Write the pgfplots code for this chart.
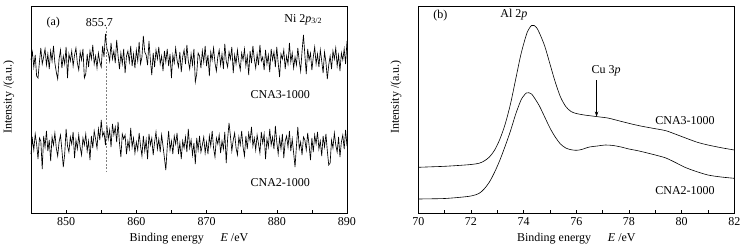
\documentclass[border=0pt]{standalone}
\usepackage{fontspec}
\setmainfont{Liberation Serif}
\usepackage{pgfplots}
\usepackage{pgfplotstable}
\pgfplotsset{compat=1.18}
\usetikzlibrary{arrows.meta}
\pgfplotstableread{
x a b
845.0 60 154
845.2 52 139
845.4 67 150
845.6 55 134
845.8 76 144
846.0 78 159
846.2 62 138
846.4 48 141
846.6 64 169
846.8 57 136
847.0 49 147
847.2 65 131
847.4 54 151
847.6 69 140
847.8 51 161
848.0 61 137
848.2 46 145
848.4 63 133
848.6 72 148
848.8 79 156
849.0 59 142
849.2 50 135
849.4 68 150
849.6 56 167
849.8 64 154
850.0 47 129
850.2 78 146
850.4 54 152
850.6 61 137
850.8 51 144
851.0 66 132
851.2 55 158
851.4 48 140
851.6 63 149
851.8 70 135
852.0 52 147
852.2 60 155
852.4 49 138
852.6 78 145
852.8 74 134
853.0 54 151
853.2 67 141
853.4 51 160
853.6 59 136
853.8 45 148
854.0 64 131
854.2 56 139
854.4 68 148
854.6 53 129
854.8 62 140
855.0 67 120
855.2 46 136
855.4 57 132
855.6 34 145
855.8 48 125
856.0 53 139
856.2 61 130
856.4 43 147
856.6 59 124
856.8 51 135
857.0 63 127
857.2 40 142
857.4 56 122
857.6 69 143
857.8 53 157
858.0 64 134
858.2 49 139
858.4 73 135
858.6 56 154
858.8 51 141
859.0 62 149
859.2 46 128
859.4 66 147
859.6 54 138
859.8 68 153
860.0 50 142
860.2 61 150
860.4 42 133
860.6 64 146
860.8 57 156
861.0 36 136
861.2 52 151
861.4 55 140
861.6 65 159
861.8 41 134
862.0 60 145
862.2 75 138
862.4 53 155
862.6 67 142
862.8 50 132
863.0 59 149
863.2 47 139
863.4 64 152
863.6 56 135
863.8 71 146
864.0 51 158
864.2 62 170
864.4 49 147
864.6 66 131
864.8 54 150
865.0 78 141
865.2 55 154
865.4 63 136
865.6 48 144
865.8 60 133
866.0 67 154
866.2 52 143
866.4 72 159
866.6 57 141
866.8 50 148
867.0 64 137
867.2 45 152
867.4 61 129
867.6 69 148
867.8 54 140
868.0 65 155
868.2 49 143
868.4 82 164
868.6 74 138
868.8 53 150
869.0 56 136
869.2 68 152
869.4 51 145
869.6 62 137
869.8 46 153
870.0 66 142
870.2 55 154
870.4 76 136
870.6 52 146
870.8 60 131
871.0 48 148
871.2 63 157
871.4 71 138
871.6 57 144
871.8 50 135
872.0 65 153
872.2 54 141
872.4 69 149
872.6 44 132
872.8 61 163
873.0 67 139
873.2 52 123
873.4 59 136
873.6 47 151
873.8 73 140
874.0 55 133
874.2 64 148
874.4 50 155
874.6 62 137
874.8 70 145
875.0 53 131
875.2 60 147
875.4 49 156
875.6 66 136
875.8 56 149
876.0 75 133
876.2 51 141
876.4 63 127
876.6 46 146
876.8 59 138
877.0 68 150
877.2 54 135
877.4 65 144
877.6 45 153
877.8 61 132
878.0 57 143
878.2 70 134
878.4 50 159
878.6 64 139
878.8 55 147
879.0 72 129
879.2 49 145
879.4 60 137
879.6 52 149
879.8 67 126
880.0 47 142
880.2 63 154
880.4 77 138
880.6 54 149
880.8 59 134
881.0 50 158
881.2 69 141
881.4 56 136
881.6 64 147
881.8 43 131
882.0 62 151
882.2 53 139
882.4 68 153
882.6 57 167
882.8 65 146
883.0 48 127
883.2 61 149
883.4 71 142
883.6 51 155
883.8 35 137
884.0 55 140
884.2 74 150
884.4 49 133
884.6 60 145
884.8 53 160
885.0 70 138
885.2 57 152
885.4 47 135
885.6 64 144
885.8 54 132
886.0 67 149
886.2 50 141
886.4 61 156
886.6 73 136
886.8 52 147
887.0 62 134
887.2 79 151
887.4 65 165
887.6 56 163
887.8 69 140
888.0 51 148
888.2 59 133
888.4 48 145
888.6 66 152
888.8 55 137
889.0 71 157
889.2 53 142
889.4 60 135
889.6 49 149
889.8 64 130
890.0 41 146
}\noise
\pgfplotstableread{
x y
70.0 167.3
70.5 166.8
71.0 166.3
71.5 165.5
72.0 164.5
72.3 163.3
72.5 161
72.7 157
72.9 150
73.1 139
73.3 124
73.5 104
73.7 79
73.9 54
74.1 35
74.2 29
74.3 25.5
74.4 25.5
74.5 28
74.6 33
74.8 46
75.0 64
75.2 82
75.4 97
75.6 106.5
75.8 111.5
76.0 113.5
76.3 115
76.6 116
76.9 117
77.2 118
77.5 120
77.8 122
78.1 124
78.5 126.3
79.0 128.7
79.4 130.7
79.8 134.5
80.2 138.5
80.6 142.3
81.0 145
81.5 147.7
82.0 150
}\cnathree
\pgfplotstableread{
x y
70.0 199
70.5 198.8
71.0 198.5
71.5 197.5
72.0 196
72.3 193.5
72.5 189
72.7 182
72.9 172
73.1 160
73.3 146
73.5 131
73.7 114
73.9 100
74.0 96
74.1 93
74.2 92.7
74.3 94
74.4 97.5
74.6 106
74.8 117
75.0 128
75.2 137
75.4 144
75.6 148
75.8 149.7
76.0 150.3
76.2 149.5
76.5 147
76.8 146
77.1 145
77.4 145.5
77.7 147
78.0 149
78.3 150.5
78.7 153
79.0 155
79.4 158
79.8 163
80.1 167
80.5 171
81.0 175
81.5 177
82.0 178.3
}\cnatwo
\pgfplotsset{
  myax/.style={
    scale only axis, width=316pt, height=207pt,
    y dir=reverse, ymin=6, ymax=213,
    ytick=\empty, xtick pos=bottom, tick align=inside,
    major tick length=3pt, minor tick length=3pt,
    minor x tick num=1,
    axis line style={line width=0.6pt},
    every tick/.style={black, line width=0.5pt},
    /pgf/number format/assume math mode=true,
    /pgf/number format/1000 sep={},
    xlabel={Binding energy\hspace{1.4em}\textit{E} /eV},
    ylabel={Intensity /(a.u.)},
    ylabel style={at={(axis description cs:-0.04,0.56)}, anchor=south},
    clip=false,
  }
}
\begin{document}
\fontsize{12}{14}\selectfont
\begin{tikzpicture}
\path[use as bounding box] (0,0) rectangle (747pt,250pt);
\begin{axis}[myax, at={(31pt,37pt)}, anchor=south west,
  xmin=845, xmax=890, xtick={850,860,870,880,890}]
\addplot[black, line width=0.65pt] table[x=x,y=a]{\noise};
\addplot[black, line width=0.65pt] table[x=x,y=b]{\noise};
\addplot[gray, line width=0.5pt, dash pattern=on 2pt off 1.5pt] coordinates {(855.7,27) (855.7,172)};
\node[anchor=base] at (axis cs:848.18,25) {(a)};
\node[anchor=base] at (axis cs:854.75,26) {855.7};
\node[anchor=base west, inner sep=0pt] at (axis cs:881.07,22) {Ni 2\textit{p}\textsubscript{3/2}};
\node[anchor=base] at (axis cs:880.5,98.3) {CNA3-1000};
\node[anchor=base] at (axis cs:880.5,186) {CNA2-1000};
\end{axis}
\begin{axis}[myax, at={(418.3pt,37pt)}, anchor=south west,
  xmin=70, xmax=82, xtick={70,72,...,82}]
\addplot[black, line width=0.6pt, smooth] table[x=x,y=y]{\cnathree};
\addplot[black, line width=0.6pt, smooth] table[x=x,y=y]{\cnatwo};
\draw[black, line width=0.5pt, -{Stealth[length=5pt,width=3.5pt]}] (axis cs:76.77,80) -- (axis cs:76.77,116.5);
\node[anchor=base] at (axis cs:70.84,18) {(b)};
\node[anchor=base] at (axis cs:73.63,17.3) {Al 2\textit{p}};
\node[anchor=base] at (axis cs:77.13,73.3) {Cu 3\textit{p}};
\node[anchor=base] at (axis cs:80.13,124) {CNA3-1000};
\node[anchor=base] at (axis cs:80.13,194) {CNA2-1000};
\end{axis}
\end{tikzpicture}
\end{document}
